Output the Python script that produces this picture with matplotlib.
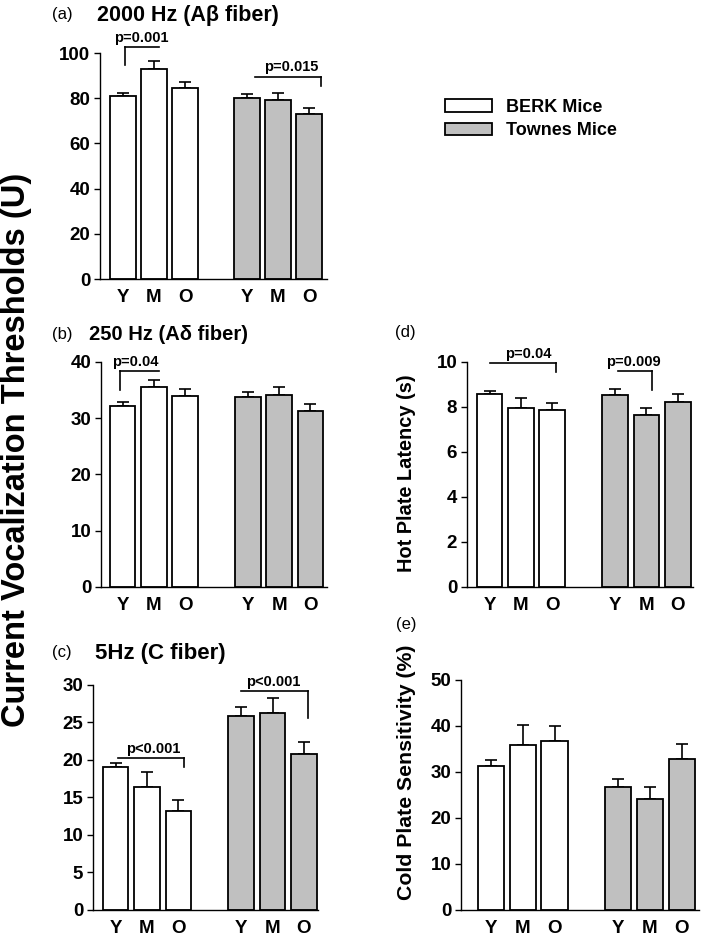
import matplotlib
matplotlib.use('Agg')
import matplotlib.pyplot as plt
from matplotlib.patches import Patch

plt.rcParams['font.family'] = ['Liberation Sans', 'DejaVu Sans']
plt.rcParams['font.weight'] = 'bold'

# data (mean, SEM)
ages = ['Y', 'M', 'O']
pos_berk = [0, 1, 2]
pos_townes = [4, 5, 6]

a_berk = [81.0, 93.0, 84.4]
a_berk_err = [1.2, 3.6, 2.6]
a_townes = [80.3, 79.1, 73.2]
a_townes_err = [1.5, 3.0, 2.5]

b_berk = [32.2, 35.6, 34.0]
b_berk_err = [0.6, 1.1, 1.1]
b_townes = [33.7, 34.1, 31.3]
b_townes_err = [0.9, 1.4, 1.2]

c_berk = [19.1, 16.4, 13.2]
c_berk_err = [0.55, 2.05, 1.45]
c_townes = [25.9, 26.3, 20.8]
c_townes_err = [1.1, 1.9, 1.6]

d_berk = [8.56, 7.94, 7.87]
d_berk_err = [0.14, 0.46, 0.29]
d_townes = [8.55, 7.64, 8.21]
d_townes_err = [0.25, 0.30, 0.37]

e_berk = [31.3, 35.9, 36.8]
e_berk_err = [1.2, 4.4, 3.1]
e_townes = [26.7, 24.2, 32.8]
e_townes_err = [1.7, 2.5, 3.3]

berk_color = 'white'
townes_color = '#c0c0c0'

fig = plt.figure(figsize=(7.02, 9.42), dpi=100)
H = 942.0
W = 702.0


def panel(rect, berk, berk_err, townes, townes_err, ylim, yticks, xlim):
    ax = fig.add_axes(rect)
    for pos, vals, errs, col in [(pos_berk, berk, berk_err, berk_color),
                                 (pos_townes, townes, townes_err, townes_color)]:
        ax.bar(pos, vals, width=0.82, color=col, edgecolor='black', linewidth=1.3, zorder=2)
        ax.errorbar(pos, vals, yerr=[[0] * len(errs), errs], fmt='none', ecolor='black',
                    elinewidth=1.2, capsize=4, capthick=1.2, zorder=1)
    ax.set_xlim(*xlim)
    ax.set_ylim(*ylim)
    ax.set_yticks(yticks)
    ax.set_xticks(pos_berk + pos_townes)
    ax.set_xticklabels(ages + ages)
    ax.tick_params(axis='x', length=0, pad=7, labelsize=13.5)
    ax.tick_params(axis='y', length=4, width=1, labelsize=13.5, pad=3)
    for s in ['top', 'right']:
        ax.spines[s].set_visible(False)
    for s in ['left', 'bottom']:
        ax.spines[s].set_linewidth(1)
    return ax


def bracket(ax, x1, x2, y, drop_x, drop_y, text, tx):
    ax.plot([x1, x2], [y, y], color='black', lw=1.2, clip_on=False)
    ax.plot([drop_x, drop_x], [y, drop_y], color='black', lw=1.2, clip_on=False)
    ax.annotate(text, (tx, y), xytext=(0, 1.5), textcoords='offset points',
                ha='center', va='bottom', fontsize=10.5, fontweight='bold', annotation_clip=False)


# (a) 2000 Hz
ax_a = panel([0.1425, 0.7038, 0.3234, 0.2399], a_berk, a_berk_err, a_townes, a_townes_err,
             (0, 100), range(0, 101, 20), (-0.74, 6.58))
bracket(ax_a, 0.06, 1.16, 102.7, 0.06, 94.5, 'p=0.001', 0.6)
bracket(ax_a, 4.26, 6.4, 89.6, 6.4, 85.3, 'p=0.015', 5.42)

# (b) 250 Hz
ax_b = panel([0.1439, 0.3769, 0.3219, 0.2389], b_berk, b_berk_err, b_townes, b_townes_err,
             (0, 40), range(0, 41, 10), (-0.69, 6.53))
bracket(ax_b, -0.07, 1.15, 38.3, -0.07, 35.0, 'p=0.04', 0.41)

# (c) 5 Hz
ax_c = panel([0.1325, 0.034, 0.3205, 0.2389], c_berk, c_berk_err, c_townes, c_townes_err,
             (0, 30), range(0, 31, 5), (-0.72, 6.45))
bracket(ax_c, 0.09, 2.18, 20.3, 2.18, 19.1, 'p<0.001', 1.2)
bracket(ax_c, 3.99, 6.14, 29.2, 6.14, 25.6, 'p<0.001', 5.03)

# (d) hot plate
ax_d = panel([0.6652, 0.3769, 0.3219, 0.2389], d_berk, d_berk_err, d_townes, d_townes_err,
             (0, 10), range(0, 11, 2), (-0.72, 6.48))
bracket(ax_d, 0.0, 2.12, 9.96, 2.12, 9.54, 'p=0.04', 1.22)
bracket(ax_d, 4.10, 5.19, 9.61, 5.19, 8.74, 'p=0.009', 4.58)

# (e) cold plate
ax_e = panel([0.6567, 0.034, 0.339, 0.2442], e_berk, e_berk_err, e_townes, e_townes_err,
             (0, 50), range(0, 51, 10), (-0.94, 6.54))

fig.text(406 / W, 1 - 473 / H, 'Hot Plate Latency (s)', fontsize=14.4, fontweight='bold',
         rotation=90, ha='center', va='center')
fig.text(406 / W, 1 - 772 / H, 'Cold Plate Sensitivity (%)', fontsize=15.3, fontweight='bold',
         rotation=90, ha='center', va='center')

# titles and panel letters
fig.text(52 / W, 1 - 15 / H, '(a)', fontsize=12, fontweight='normal', va='center')
fig.text(97 / W, 1 - 15 / H, '2000 Hz (A\u03b2 fiber)', fontsize=15.5, fontweight='bold', va='center')
fig.text(52 / W, 1 - 335 / H, '(b)', fontsize=12, fontweight='normal', va='center')
fig.text(89 / W, 1 - 335 / H, '250 Hz (A\u03b4 fiber)', fontsize=14.5, fontweight='bold', va='center')
fig.text(52 / W, 1 - 653 / H, '(c)', fontsize=12, fontweight='normal', va='center')
fig.text(95 / W, 1 - 653 / H, '5Hz (C fiber)', fontsize=16, fontweight='bold', va='center')
fig.text(395 / W, 1 - 333 / H, '(d)', fontsize=12, fontweight='normal', va='center')
fig.text(396 / W, 1 - 625 / H, '(e)', fontsize=12, fontweight='normal', va='center')

fig.text(17 / W, 1 - 450 / H, 'Current Vocalization Thresholds (U)', fontsize=23.5,
         fontweight='bold', rotation=90, ha='center', va='center')

handles = [Patch(facecolor=berk_color, edgecolor='black', linewidth=1.3, label='BERK Mice'),
           Patch(facecolor=townes_color, edgecolor='black', linewidth=1.3, label='Townes Mice')]
fig.legend(handles=handles, loc='upper left', bbox_to_anchor=(445 / W, 1 - 99 / H),
           frameon=False, borderaxespad=0, borderpad=0, handlelength=2.6, handleheight=0.7,
           handletextpad=0.8, labelspacing=0.35, prop={'size': 13, 'weight': 'bold'})

fig.savefig('out.png', dpi=100)
